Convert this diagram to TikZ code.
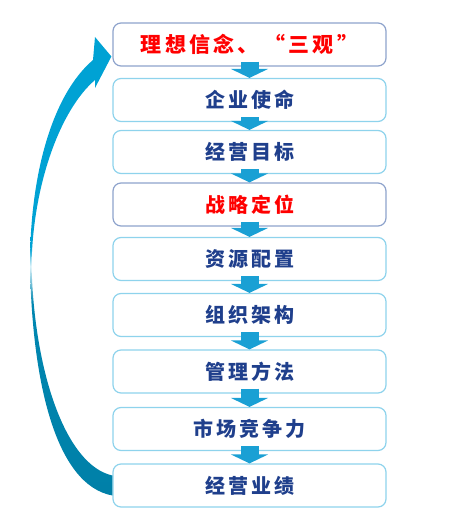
\documentclass[tikz,border=0pt]{standalone}
\usepackage{fontspec}
\newfontfamily\cjk{Noto Sans CJK SC}[LetterSpace=15]
\usepackage{tikz}
\usetikzlibrary{arrows.meta,calc}
\definecolor{boxline}{HTML}{8ED3EC}
\definecolor{keyline}{HTML}{8EA3CC}
\definecolor{textblue}{HTML}{1F3F8C}
\definecolor{flowblue}{HTML}{1AA0D4}
\definecolor{loopdark}{HTML}{0080A8}
\definecolor{looplight}{HTML}{00A2D4}
\pgfdeclareverticalshading{loopshade}{100bp}{color(0bp)=(loopdark); color(25bp)=(loopdark); color(46bp)=(loopdark!80!looplight); color(50bp)=(looplight!15); color(52bp)=(looplight); color(100bp)=(looplight)}

\begin{document}
\begin{tikzpicture}[x=1pt,y=-1pt,
	stage/.style={draw=boxline,line width=1.2pt,rounded corners=8pt,fill=white,minimum width=273pt,minimum height=43pt,inner sep=0pt,text=textblue,font={\fontsize{20pt}{20pt}\selectfont\cjk\bfseries}},
	keystage/.style={stage,draw=keyline,text=red},
	flow/.style={draw=flowblue,line width=18pt,-{Triangle[width=37pt,length=9pt]}}]
	\useasboundingbox (0,0) rectangle (448,529);

	\node[keystage,font={\fontsize{21pt}{21pt}\selectfont\cjk\bfseries}] (ideal) at (249.5,44.5) {理想信念、\hspace{6pt}“三观”\hspace{4pt}};
	\node[stage] (mission) at (249.5,100) {企业使命};
	\node[stage] (goal) at (249.5,152) {经营目标};
	\node[keystage] (strategy) at (249.5,204.5) {战略定位};
	\node[stage] (resource) at (249.5,259) {资源配置};
	\node[stage] (organize) at (249.5,315) {组织架构};
	\node[stage] (method) at (249.5,371.5) {管理方法};
	\node[stage] (market) at (249.5,429) {市场竞争力};
	\node[stage] (result) at (249.5,485.5) {经营业绩};

	\draw[flow] ($(ideal.south)+(0,-5)$) -- (mission.north);
	\draw[flow] ($(mission.south)+(0,-5)$) -- (goal.north);
	\draw[flow] ($(goal.south)+(0,-5)$) -- (strategy.north);
	\draw[flow] ($(strategy.south)+(0,-5)$) -- (resource.north);
	\draw[flow] ($(resource.south)+(0,-5)$) -- (organize.north);
	\draw[flow] ($(organize.south)+(0,-5)$) -- (method.north);
	\draw[flow] ($(method.south)+(0,-5)$) -- (market.north);
	\draw[flow] ($(market.south)+(0,-5)$) -- (result.north);

	% feedback arrow back to the top
	\coordinate (loopout) at ($(result.west)+(0,10)$);
	\coordinate (loopin) at ($(result.west)+(0,-10)$);
	\coordinate (looptip) at ($(ideal.west)+(-1,12)$);
	\shade[shading=loopshade] (loopout) .. controls (55,485) and (32,380) .. (30,265)
		.. controls (30,175) and (52,95) .. (93,60)
		-- (95,37) -- (looptip) -- (95,88) -- (95,80)
		.. controls (60,110) and (33,185) .. (31.5,265)
		.. controls (34,370) and (65,465) .. (loopin) -- cycle;
\end{tikzpicture}
\end{document}
